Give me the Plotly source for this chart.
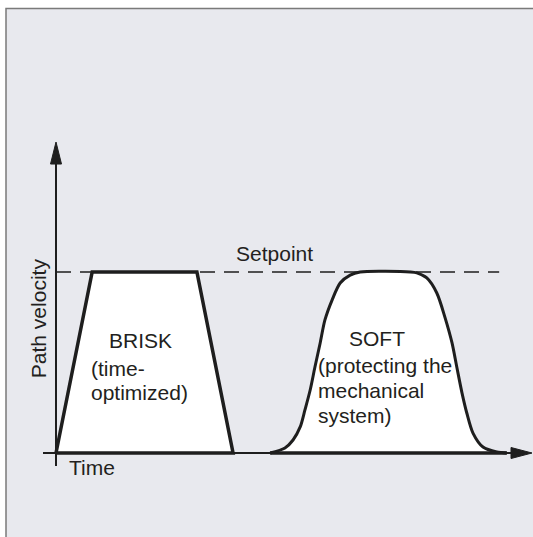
import plotly.graph_objects as go

# ---- data (time in arbitrary units, velocity normalised to setpoint = 1) ----
setpoint = 1.0
brisk_t = [0.0, 7.6, 29.6, 37.2]
brisk_v = [0.0, 1.0, 1.0, 0.0]

soft_t = [45.0, 48.1, 49.8, 51.3, 52.3, 53.4, 54.4, 55.5, 56.5, 58.0, 59.7, 61.8, 63.9,
          74.4, 75.8, 77.9, 80.0, 81.7, 83.2, 84.2, 85.3, 86.3, 87.6, 89.7, 92.6, 94.7]
soft_v = [0.0, 0.028, 0.072, 0.144, 0.238, 0.348, 0.475, 0.608, 0.735, 0.845, 0.939, 0.983, 1.0,
          1.0, 0.995, 0.967, 0.884, 0.751, 0.608, 0.475, 0.331, 0.221, 0.110, 0.033, 0.006, 0.0]

t_axis_end = 100.0
v_axis_end = 1.718
setpoint_line_end = 93.1

# ---- layout constants ----
W, H = 533, 537
PX_T = 4.76   # pixels per time unit
PX_V = 181.0  # pixels per velocity unit
ORIGIN_X, ORIGIN_Y = 56, 453  # pixel position of origin
x_range = [-ORIGIN_X / PX_T, (W - ORIGIN_X) / PX_T]
y_range = [(ORIGIN_Y - H) / PX_V, ORIGIN_Y / PX_V]

BG = "#E8E9EE"
INK = "#1E1E1E"
TXT = "#231F20"
FONT = "Arial, Liberation Sans, sans-serif"
FS = 21

fig = go.Figure()

# setpoint dashed line
fig.add_trace(go.Scatter(x=[0, setpoint_line_end], y=[setpoint, setpoint], mode="lines",
                         line=dict(color=INK, width=1.3, dash="15px,9px"), hoverinfo="skip"))

# axes shafts
head_len_t = 21 / PX_T
head_len_v = 22 / PX_V
fig.add_trace(go.Scatter(x=[-13 / PX_T, t_axis_end - head_len_t], y=[0, 0], mode="lines",
                         line=dict(color=INK, width=2), hoverinfo="skip"))
fig.add_trace(go.Scatter(x=[0, 0], y=[-13 / PX_V, v_axis_end - head_len_v], mode="lines",
                         line=dict(color=INK, width=2), hoverinfo="skip"))

# arrow heads
hw_t = 5.5 / PX_T
hw_v = 5.5 / PX_V
fig.add_trace(go.Scatter(x=[-hw_t, 0, hw_t, -hw_t],
                         y=[v_axis_end - head_len_v, v_axis_end, v_axis_end - head_len_v, v_axis_end - head_len_v],
                         mode="lines", fill="toself", fillcolor=INK, line=dict(color=INK, width=1),
                         hoverinfo="skip"))
fig.add_trace(go.Scatter(x=[t_axis_end - head_len_t, t_axis_end, t_axis_end - head_len_t, t_axis_end - head_len_t],
                         y=[-hw_v, 0, hw_v, -hw_v],
                         mode="lines", fill="toself", fillcolor=INK, line=dict(color=INK, width=1),
                         hoverinfo="skip"))

# BRISK profile
fig.add_trace(go.Scatter(x=brisk_t + [brisk_t[0]], y=brisk_v + [brisk_v[0]], mode="lines",
                         fill="toself", fillcolor="white",
                         line=dict(color=INK, width=3.5, shape="linear"), hoverinfo="skip"))

# SOFT profile: smooth open curve filled, plus its thick base line
fig.add_trace(go.Scatter(x=soft_t, y=soft_v, mode="lines",
                         fill="toself", fillcolor="white",
                         line=dict(color=INK, width=3.0, shape="spline", smoothing=0.8),
                         hoverinfo="skip"))
fig.add_trace(go.Scatter(x=[soft_t[0], soft_t[-1]], y=[0, 0], mode="lines",
                         line=dict(color=INK, width=3.5), hoverinfo="skip"))

def ann(text, x, y, xanchor="left", angle=0):
    fig.add_annotation(x=x, y=y, text=text, showarrow=False, xanchor=xanchor, yanchor="middle",
                       textangle=angle, font=dict(family=FONT, size=FS, color=TXT))

ann("Setpoint", 37.4, 1.10)
ann("BRISK", 10.7, 0.622)
ann("(time-", 7.0, 0.467)
ann("optimized)", 7.0, 0.332)
ann("SOFT", 61.1, 0.632)
ann("(protecting the", 54.6, 0.482)
ann("mechanical", 54.6, 0.347)
ann("system)", 54.6, 0.207)
ann("Time", 2.3, -0.078)
ann("Path velocity", -3.78, 0.745, xanchor="center", angle=-90)

fig.update_layout(
    width=W, height=H,
    margin=dict(l=0, r=0, t=0, b=0),
    paper_bgcolor="white", plot_bgcolor="rgba(0,0,0,0)",
    showlegend=False,
    xaxis=dict(range=x_range, visible=False, fixedrange=True),
    yaxis=dict(range=y_range, visible=False, fixedrange=True),
    shapes=[dict(type="rect", xref="paper", yref="paper", layer="below",
                 x0=6 / W, x1=1.02, y0=-0.02, y1=1 - 8.5 / H,
                 fillcolor=BG, line=dict(color="#7A7A7A", width=1.5))],
)

fig.write_html("out.html", config={"displayModeBar": False},
               post_script="document.body.style.margin='0';document.body.style.overflow='hidden';")
